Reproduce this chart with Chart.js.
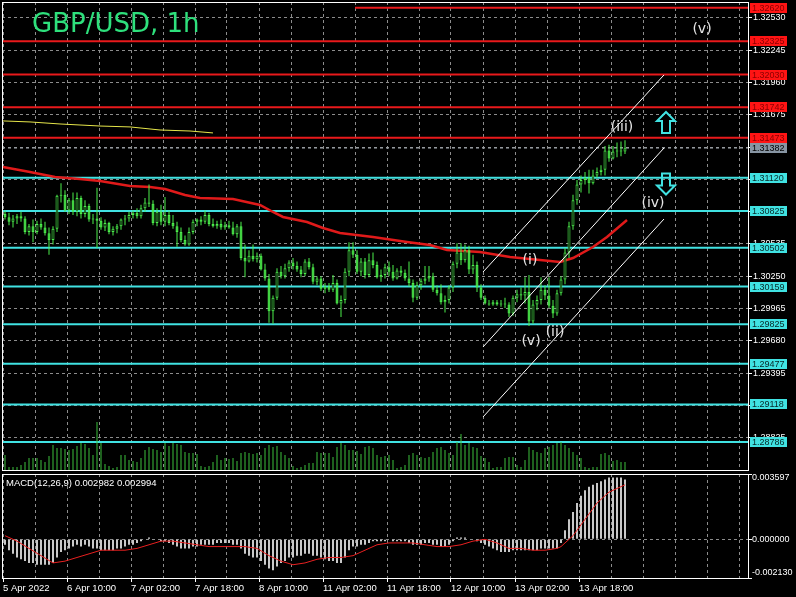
<!DOCTYPE html>
<html>
<head>
<meta charset="utf-8">
<script src="https://cdn.jsdelivr.net/npm/chart.js@4.4.1/dist/chart.umd.min.js"></script>
<style>
html, body { margin: 0; padding: 0; background: #000; }
#wrap { position: relative; width: 796px; height: 597px; background: #000; overflow: hidden; }
#mainChart { position: absolute; left: 0; top: 0; }
#macdChart { position: absolute; left: 0; top: 472px; }
</style>
</head>
<body>
<div id="wrap">
  <canvas id="mainChart" width="796" height="472"></canvas>
  <canvas id="macdChart" width="796" height="125"></canvas>
</div>
<script>
// --- data (one entry per hourly bar) ---
const chartTitle = 'GBP/USD, 1h';
const macdTitle = 'MACD(12,26,9) 0.002982 0.002994';

const opens = [
  1.3080,1.3077,1.3073,1.3076,1.3078,1.3076,1.3064,1.3069,1.3064,1.3071,
  1.3068,1.3063,1.3057,1.3067,1.3096,1.3097,1.3083,1.3092,1.3082,1.3094,
  1.3080,1.3087,1.3075,1.3076,1.3074,1.3068,1.3072,1.3064,1.3067,1.3069,
  1.3075,1.3076,1.3079,1.3081,1.3078,1.3085,1.3090,1.3089,1.3072,1.3082,
  1.3073,1.3079,1.3072,1.3069,1.3064,1.3057,1.3053,1.3064,1.3073,1.3075,
  1.3073,1.3079,1.3071,1.3069,1.3071,1.3068,1.3070,1.3068,1.3062,1.3069,
  1.3041,1.3038,1.3043,1.3040,1.3043,1.3031,1.3023,1.2994,1.3006,1.3029,
  1.3025,1.3032,1.3037,1.3034,1.3031,1.3027,1.3038,1.3033,1.3020,1.3023,
  1.3014,1.3016,1.3013,1.3019,1.3001,1.3004,1.3029,1.3048,1.3044,1.3029,
  1.3038,1.3026,1.3039,1.3035,1.3024,1.3026,1.3033,1.3029,1.3023,1.3030,
  1.3028,1.3023,1.3019,1.3006,1.3017,1.3021,1.3023,1.3025,1.3013,1.3010,
  1.3002,1.3004,1.3015,1.3036,1.3046,1.3039,1.3048,1.3031,1.3035,1.3015,
  1.3006,1.3001,1.3000,1.3002,1.3000,1.3001,1.3000,1.2992,1.3006,1.3009,
  1.3008,1.3011,1.2985,1.3000,1.3004,1.3013,1.3008,1.2999,1.2992,1.3010,
  1.3022,1.3046,1.3069,1.3092,1.3106,1.3110,1.3112,1.3107,1.3114,1.3117,
  1.3119,1.3136,1.3129,1.3135,1.3136,1.3135
];
const highs = [
  1.3083,1.3081,1.3079,1.3080,1.3082,1.3078,1.3071,1.3075,1.3074,1.3076,
  1.3073,1.3068,1.3069,1.3097,1.3107,1.3101,1.3094,1.3099,1.3099,1.3096,
  1.3092,1.3089,1.3080,1.3103,1.3077,1.3075,1.3073,1.3069,1.3071,1.3076,
  1.3079,1.3082,1.3083,1.3085,1.3088,1.3094,1.3106,1.3092,1.3085,1.3088,
  1.3095,1.3083,1.3079,1.3073,1.3068,1.3061,1.3068,1.3075,1.3076,1.3078,
  1.3083,1.3081,1.3076,1.3074,1.3075,1.3073,1.3074,1.3073,1.3071,1.3073,
  1.3053,1.3048,1.3053,1.3046,1.3045,1.3036,1.3027,1.3008,1.3032,1.3034,
  1.3036,1.3039,1.3041,1.3038,1.3034,1.3040,1.3041,1.3036,1.3025,1.3025,
  1.3019,1.3019,1.3026,1.3022,1.3008,1.3032,1.3055,1.3055,1.3048,1.3041,
  1.3041,1.3045,1.3046,1.3038,1.3031,1.3036,1.3038,1.3035,1.3032,1.3034,
  1.3031,1.3038,1.3022,1.3020,1.3023,1.3034,1.3034,1.3028,1.3017,1.3018,
  1.3008,1.3017,1.3038,1.3054,1.3054,1.3053,1.3052,1.3044,1.3038,1.3018,
  1.3008,1.3004,1.3004,1.3004,1.3004,1.3006,1.3002,1.3008,1.3013,1.3015,
  1.3024,1.3026,1.3004,1.3008,1.3024,1.3017,1.3024,1.3004,1.3013,1.3025,
  1.3050,1.3073,1.3097,1.3110,1.3114,1.3117,1.3119,1.3119,1.3121,1.3123,
  1.3140,1.3141,1.3140,1.3143,1.3144,1.3145
];
const lows = [
  1.3075,1.3070,1.3068,1.3071,1.3073,1.3062,1.3061,1.3055,1.3062,1.3066,
  1.3061,1.3044,1.3053,1.3064,1.3090,1.3082,1.3080,1.3079,1.3078,1.3076,
  1.3077,1.3073,1.3071,1.3050,1.3066,1.3065,1.3062,1.3061,1.3063,1.3066,
  1.3070,1.3073,1.3076,1.3076,1.3076,1.3082,1.3086,1.3070,1.3069,1.3070,
  1.3069,1.3070,1.3067,1.3051,1.3055,1.3052,1.3052,1.3062,1.3069,1.3070,
  1.3071,1.3069,1.3068,1.3067,1.3066,1.3066,1.3067,1.3061,1.3059,1.3039,
  1.3024,1.3037,1.3038,1.3037,1.3030,1.3021,1.2984,1.2983,1.3004,1.3023,
  1.3023,1.3029,1.3031,1.3029,1.3024,1.3025,1.3031,1.3018,1.3017,1.3012,
  1.3010,1.3011,1.3011,1.3000,1.2989,1.3001,1.3025,1.3041,1.3027,1.3025,
  1.3023,1.3024,1.3032,1.3023,1.3020,1.3023,1.3025,1.3021,1.3022,1.3025,
  1.3021,1.3016,1.3002,1.3004,1.3013,1.3018,1.3020,1.3011,1.3008,1.3000,
  1.2993,1.3001,1.3011,1.3032,1.3035,1.3037,1.3027,1.3027,1.3011,1.3004,
  1.3000,1.2999,1.2999,1.2999,1.2998,1.2997,1.2989,1.2990,1.3002,1.3004,
  1.3001,1.2981,1.2983,1.2995,1.3000,1.3004,1.2997,1.2988,1.2990,1.3008,
  1.3018,1.3041,1.3066,1.3088,1.3099,1.3106,1.3098,1.3106,1.3112,1.3114,
  1.3114,1.3126,1.3128,1.3130,1.3131,1.3133
];
const closes = [
  1.3077,1.3073,1.3076,1.3078,1.3076,1.3064,1.3069,1.3064,1.3071,1.3068,
  1.3063,1.3057,1.3067,1.3096,1.3097,1.3083,1.3092,1.3082,1.3094,1.3080,
  1.3087,1.3075,1.3076,1.3074,1.3068,1.3072,1.3064,1.3067,1.3069,1.3075,
  1.3076,1.3079,1.3081,1.3078,1.3085,1.3090,1.3089,1.3072,1.3082,1.3073,
  1.3079,1.3072,1.3069,1.3064,1.3057,1.3053,1.3064,1.3073,1.3075,1.3073,
  1.3079,1.3071,1.3069,1.3071,1.3068,1.3070,1.3068,1.3062,1.3069,1.3041,
  1.3038,1.3043,1.3040,1.3043,1.3031,1.3023,1.2994,1.3006,1.3029,1.3025,
  1.3032,1.3037,1.3034,1.3031,1.3027,1.3038,1.3033,1.3020,1.3023,1.3014,
  1.3016,1.3013,1.3019,1.3001,1.3004,1.3029,1.3048,1.3044,1.3029,1.3038,
  1.3026,1.3039,1.3035,1.3024,1.3026,1.3033,1.3029,1.3023,1.3030,1.3028,
  1.3023,1.3019,1.3006,1.3017,1.3021,1.3023,1.3025,1.3013,1.3010,1.3002,
  1.3004,1.3015,1.3036,1.3046,1.3039,1.3048,1.3031,1.3035,1.3015,1.3006,
  1.3001,1.3000,1.3002,1.3000,1.3001,1.3000,1.2992,1.3006,1.3009,1.3008,
  1.3011,1.2985,1.3000,1.3004,1.3013,1.3008,1.2999,1.2992,1.3010,1.3022,
  1.3046,1.3069,1.3092,1.3106,1.3110,1.3112,1.3107,1.3114,1.3117,1.3119,
  1.3136,1.3129,1.3135,1.3136,1.3135,1.3138
];
const volumes = [
  1500,300,300,300,500,800,1200,1200,1200,1000,
  800,1400,2500,2200,2200,2100,2000,2100,2400,2700,
  2600,2200,1500,4800,2700,600,400,200,300,1500,
  1500,1000,900,800,1200,2000,2300,2100,2000,1800,
  2700,2400,2700,2600,2500,1800,1700,1700,1600,400,
  300,400,800,1500,1000,1200,1100,1200,900,1700,
  1800,1700,1600,1700,1500,2200,2500,2300,2400,1800,
  1500,1200,400,200,300,500,700,700,1800,1700,
  1700,1700,1300,2300,2700,2500,2000,2000,1900,1600,
  2300,2400,2200,1500,1300,1400,1500,1000,200,300,
  500,1500,1700,1500,1300,1200,1300,1800,2200,2300,
  2000,1700,1500,2800,3600,2500,2700,2300,2200,1400,
  1200,800,200,300,300,1200,1300,1300,500,300,
  1000,2300,2000,1800,1700,2200,2300,2500,2700,2800,
  2500,2200,1800,1500,1200,300,200,300,300,1600,
  1700,1500,900,1000,800,800
];
const macdMain = [
  -0.0003,-0.0006,-0.0008,-0.0010,-0.0011,-0.0012,-0.0013,-0.0013,-0.0014,-0.0014,
  -0.0014,-0.0014,-0.0013,-0.0010,-0.0007,-0.0006,-0.0005,-0.0004,-0.0003,-0.0004,
  -0.0003,-0.0004,-0.0005,-0.0005,-0.0006,-0.0006,-0.0006,-0.0006,-0.0005,-0.0005,
  -0.0004,-0.0003,-0.0003,-0.0002,-0.0001,0.0000,0.0001,0.0000,0.0000,-0.0001,
  -0.0001,-0.0002,-0.0003,-0.0004,-0.0005,-0.0005,-0.0005,-0.0004,-0.0004,-0.0003,
  -0.0003,-0.0003,-0.0003,-0.0002,-0.0002,-0.0002,-0.0002,-0.0003,-0.0003,-0.0005,
  -0.0008,-0.0009,-0.0010,-0.0010,-0.0012,-0.0014,-0.0016,-0.0017,-0.0015,-0.0013,
  -0.0012,-0.0010,-0.0010,-0.0009,-0.0009,-0.0008,-0.0008,-0.0009,-0.0009,-0.0010,
  -0.0011,-0.0012,-0.0012,-0.0013,-0.0013,-0.0010,-0.0006,-0.0004,-0.0004,-0.0003,
  -0.0003,-0.0002,-0.0001,-0.0001,-0.0001,-0.0001,0.0000,-0.0001,-0.0001,-0.0001,
  -0.0001,-0.0002,-0.0003,-0.0003,-0.0003,-0.0002,-0.0002,-0.0003,-0.0003,-0.0004,
  -0.0004,-0.0003,-0.0001,0.0001,0.0001,0.0001,0.0000,0.0000,-0.0001,-0.0002,
  -0.0003,-0.0004,-0.0005,-0.0006,-0.0007,-0.0007,-0.0007,-0.0006,-0.0006,-0.0006,
  -0.0006,-0.0006,-0.0006,-0.0006,-0.0005,-0.0005,-0.0005,-0.0005,-0.0005,-0.0002,
  0.0005,0.0011,0.0015,0.0020,0.0024,0.0027,0.0029,0.0030,0.0031,0.0032,
  0.0033,0.0034,0.0034,0.0034,0.0034,0.0033
];
// signal line, read at these bar positions
const signalBars = [0,3,6,9,12,15,18,21,24,27,30,33,36,39,42,45,48,51,54,57,60,63,66,69,72,75,78,81,84,87,90,93,96,99,102,105,108,111,114,117,120,123,126,129,132,135,138,139,140,141,142,143,144,145,146,147,148,149,150,151,152,153,154,155];
const signalValues = [0.0002,-0.0001,-0.0005,-0.0009,-0.0013,-0.0012,-0.0010,-0.0008,-0.0006,-0.0006,-0.0006,-0.0005,-0.0003,-0.0001,-0.0001,-0.0002,-0.0003,-0.0004,-0.0004,-0.0004,-0.0004,-0.0005,-0.0009,-0.0012,-0.0014,-0.0013,-0.0011,-0.0010,-0.0010,-0.0009,-0.0006,-0.0003,-0.0002,-0.0002,-0.0002,-0.0003,-0.0004,-0.0004,-0.0003,-0.0001,0.0000,-0.0002,-0.0005,-0.0005,-0.0006,-0.0006,-0.0005,-0.0004,-0.0002,0.0000,0.0002,0.0005,0.0008,0.0011,0.0014,0.0017,0.0020,0.0022,0.0024,0.0026,0.0027,0.0028,0.0029,0.0030];

// red moving average and the yellow line, read at these bar positions
const maBars = [-0.5,6.25,12.5,18.75,23.75,31.25,36.25,40,45,48.75,57,63.75,67,69.5,75.5,79.5,83.75,92,100.5,106.25,110.5,118.75,126.25,133.75,138.75,142,147,150.5,155.5];
const maValues = [1.31214,1.31170,1.31126,1.31108,1.31091,1.31047,1.31038,1.31020,1.30967,1.30941,1.30932,1.30879,1.30817,1.30773,1.30729,1.30676,1.30632,1.30596,1.30552,1.30526,1.30481,1.30464,1.30419,1.30393,1.30375,1.30411,1.30508,1.30596,1.30746];
const yellowBars = [-0.5,6.25,13.75,23.75,31.25,38.75,46.25,52];
const yellowValues = [1.31621,1.31612,1.31594,1.31576,1.31568,1.31541,1.31532,1.31515];

// parallel channel (three trend lines)
const channelBars = [119.5, 164.75];
const channelStarts = [1.30287, 1.29625, 1.29007];
const channelEnds = [1.32027, 1.31382, 1.30755];

// horizontal levels
const redLevels = [1.32620, 1.32325, 1.32030, 1.31742, 1.31473];
const redStarts = [87.5, null, null, null, null];
const cyanLevels = [1.31120, 1.30825, 1.30502, 1.30159, 1.29825, 1.29477, 1.29118, 1.28786];
const lastPrice = 1.31382;

// axes
const priceTicks = [1.32530,1.32245,1.31960,1.31675,1.31390,1.31105,1.30820,1.30535,1.30250,1.29965,1.29680,1.29395,1.29110,1.28825];
const macdTicks = [0.003597, 0, -0.002130];
const timeLabels = ['5 Apr 2022','6 Apr 10:00','7 Apr 02:00','7 Apr 18:00','8 Apr 10:00','11 Apr 02:00','11 Apr 18:00','12 Apr 10:00','13 Apr 02:00','13 Apr 18:00'];

// wave count labels and arrows
const waveTexts = ['(v)','(iii)','(iv)','(i)','(ii)','(v)'];
const waveBars = [174.25,154.25,162,131.25,137.5,131.5];
const wavePrices = [1.32433,1.31568,1.30897,1.30393,1.29757,1.29678];
const arrowBars = [165.25, 165.25];
const arrowPrices = [1.31607, 1.31064];
const arrowDirs = ['up', 'down'];

// --- view settings ---
const X_MIN = -0.75, X_MAX = 185.75;
const P_MIN = 1.28539, P_MAX = 1.32671;
const VOL_MAX = 46800;
const M_MIN = -0.002130, M_MAX = 0.003597;
const GREEN = '#4cf04c';
const GRID = '#8c8c8c';
const RED = '#e8191b';
const CYAN = '#40e2e2';

Chart.defaults.font.family = "'Liberation Sans', Arial, sans-serif";
Chart.defaults.color = '#ffffff';

const bars = opens.map((_, i) => i);

// vertical grid every 8 bars
function xGridTicks(axis) {
    const t = [];
    for (let k = 0; k * 8 - 0.5 <= X_MAX; k++) t.push({ value: k * 8 - 0.5 });
    axis.ticks = t;
}

// keep the plot area exactly where the panel frame is
function noPad(axis) {
    axis.paddingTop = 0;
    axis.paddingBottom = 0;
    axis.paddingLeft = 0;
    axis.paddingRight = 0;
}

function hLine(p, from, color, width, dash, order) {
    return {
        type: 'line',
        data: [{ x: from, y: p }, { x: X_MAX, y: p }],
        borderColor: color, borderWidth: width, borderDash: dash || [],
        pointRadius: 0, order: order
    };
}

const mainSets = [];
redLevels.forEach((p, j) => mainSets.push(hLine(p, redStarts[j] === null ? X_MIN : redStarts[j], RED, 2, null, 12)));
cyanLevels.forEach(p => mainSets.push(hLine(p, X_MIN, CYAN, 2, null, 12)));
mainSets.push(hLine(lastPrice, X_MIN, '#a0a8b0', 1, [3, 3], 13));

mainSets.push({
    type: 'bar', yAxisID: 'yv',
    data: bars.map(i => ({ x: i, y: volumes[i] })),
    backgroundColor: '#3cc03c', barThickness: 1, grouped: false, inflateAmount: 0, order: 11
});
mainSets.push({
    type: 'line',
    data: yellowBars.map((b, j) => ({ x: b, y: yellowValues[j] })),
    borderColor: '#e6e64a', borderWidth: 1, pointRadius: 0, order: 7
});
mainSets.push({
    type: 'line',
    data: maBars.map((b, j) => ({ x: b, y: maValues[j] })),
    borderColor: '#e01a1a', borderWidth: 2.5, pointRadius: 0, order: 6
});
// wicks
mainSets.push({
    type: 'bar',
    data: bars.map(i => ({ x: i, y: [lows[i], highs[i]] })),
    backgroundColor: GREEN, barThickness: 1, grouped: false, inflateAmount: 0, order: 4
});
// bodies: hollow when up, filled when down
mainSets.push({
    type: 'bar',
    data: bars.map(i => ({ x: i, y: [opens[i], closes[i]] })),
    backgroundColor: c => closes[c.dataIndex] >= opens[c.dataIndex] ? '#000000' : GREEN,
    borderColor: GREEN, borderWidth: 1, borderSkipped: false,
    barThickness: 3, grouped: false, inflateAmount: 0, order: 3
});
channelStarts.forEach((s, j) => mainSets.push({
    type: 'line',
    data: [{ x: channelBars[0], y: s }, { x: channelBars[1], y: channelEnds[j] }],
    borderColor: '#ffffff', borderWidth: 1, pointRadius: 0, order: 1
}));

function drawArrow(ctx, cx, cy, dir) {
    const s = dir === 'up' ? 1 : -1;
    const pts = [[0, -10.5], [9, -1.5], [4, -1.5], [4, 10.5], [-4, 10.5], [-4, -1.5], [-9, -1.5]];
    ctx.beginPath();
    pts.forEach((p, k) => {
        const px = cx + p[0], py = cy + p[1] * s;
        if (k === 0) ctx.moveTo(px, py); else ctx.lineTo(px, py);
    });
    ctx.closePath();
    ctx.stroke();
}

const mainDecor = {
    id: 'mainDecor',
    afterDraw(chart) {
        const { ctx, chartArea: a, scales: { x, y } } = chart;
        ctx.save();
        ctx.strokeStyle = '#ffffff';
        ctx.lineWidth = 1;
        ctx.strokeRect(a.left + 0.5, a.top + 0.5, a.right - a.left, a.bottom - a.top);

        // price boxes on the right axis
        ctx.font = "9px 'Liberation Sans'";
        ctx.textBaseline = 'middle';
        ctx.textAlign = 'left';
        const box = (p, bg, fg) => {
            const py = Math.round(y.getPixelForValue(p));
            ctx.fillStyle = bg;
            ctx.fillRect(a.right + 2, py - 5, 37, 10);
            ctx.fillStyle = fg;
            ctx.fillText(p.toFixed(5), a.right + 4, py + 0.5);
        };
        redLevels.forEach(p => box(p, '#ff1414', '#8a0000'));
        cyanLevels.forEach(p => box(p, CYAN, '#062626'));
        box(lastPrice, '#8795a3', '#000000');

        // title
        ctx.font = "26px 'DejaVu Sans'";
        ctx.textBaseline = 'alphabetic';
        ctx.fillStyle = '#2ee07c';
        ctx.fillText(chartTitle, 32, 31.5);

        // wave labels
        ctx.font = "14px 'DejaVu Sans'";
        ctx.textAlign = 'center';
        ctx.textBaseline = 'middle';
        ctx.fillStyle = '#e6e6e6';
        waveTexts.forEach((t, j) => ctx.fillText(t, x.getPixelForValue(waveBars[j]), y.getPixelForValue(wavePrices[j])));

        // arrows
        ctx.strokeStyle = CYAN;
        ctx.lineWidth = 2;
        arrowDirs.forEach((d, j) => drawArrow(ctx, x.getPixelForValue(arrowBars[j]), y.getPixelForValue(arrowPrices[j]), d));
        ctx.restore();
    }
};

new Chart(document.getElementById('mainChart'), {
    type: 'bar',
    data: { datasets: mainSets },
    options: {
        responsive: false,
        animation: false,
        events: [],
        layout: { padding: { left: 2, top: 2, right: 0, bottom: 2 } },
        plugins: { legend: { display: false }, tooltip: { enabled: false } },
        scales: {
            x: {
                type: 'linear', min: X_MIN, max: X_MAX, offset: false,
                afterBuildTicks: xGridTicks,
                ticks: { display: false },
                grid: { color: GRID, drawTicks: false, offset: false },
                border: { display: false, dash: [3, 3] },
                afterFit: axis => { axis.height = 0; noPad(axis); }
            },
            y: {
                position: 'right', min: P_MIN, max: P_MAX,
                afterBuildTicks: axis => { axis.ticks = priceTicks.map(v => ({ value: v })); },
                ticks: { autoSkip: false, callback: v => v.toFixed(5), font: { size: 9 }, color: '#ffffff', padding: 1 },
                grid: { color: GRID, tickColor: '#ffffff', tickLength: 4, tickBorderDash: [] },
                border: { display: false, dash: [3, 3] },
                afterFit: axis => { axis.width = 48; noPad(axis); }
            },
            yv: { display: false, min: 0, max: VOL_MAX }
        }
    },
    plugins: [mainDecor]
});

// --- MACD sub-window ---
const macdDecor = {
    id: 'macdDecor',
    afterDraw(chart) {
        const { ctx, chartArea: a, scales: { y } } = chart;
        ctx.save();
        ctx.strokeStyle = '#ffffff';
        ctx.lineWidth = 1;
        ctx.strokeRect(a.left + 0.5, a.top + 0.5, a.right - a.left, a.bottom - a.top);
        ctx.fillStyle = '#ffffff';
        ctx.font = "9.5px 'Liberation Sans'";
        ctx.textBaseline = 'middle';
        ctx.textAlign = 'left';
        ctx.fillText(macdTitle, 6, a.top + 9);
        ctx.font = "9px 'Liberation Sans'";
        macdTicks.forEach(v => {
            let py = y.getPixelForValue(v);
            if (v === M_MAX) py += 4;
            if (v === M_MIN) py -= 5;
            ctx.fillText(v.toFixed(6), a.right + 4, py);
        });
        ctx.restore();
    }
};

new Chart(document.getElementById('macdChart'), {
    type: 'bar',
    data: {
        datasets: [
            {
                type: 'bar',
                data: bars.map(i => ({ x: i, y: macdMain[i] })),
                backgroundColor: '#c8c8c8', barThickness: 2, grouped: false, inflateAmount: 0, order: 2
            },
            {
                type: 'line',
                data: signalBars.map((b, j) => ({ x: b, y: signalValues[j] })),
                borderColor: '#e82020', borderWidth: 1, pointRadius: 0, order: 1
            }
        ]
    },
    options: {
        responsive: false,
        animation: false,
        events: [],
        layout: { padding: { left: 2, top: 2, right: 0, bottom: 0 } },
        plugins: { legend: { display: false }, tooltip: { enabled: false } },
        scales: {
            x: {
                type: 'linear', min: X_MIN, max: X_MAX, offset: false,
                afterBuildTicks: xGridTicks,
                ticks: {
                    autoSkip: false, maxRotation: 0, minRotation: 0, align: 'start', padding: 1,
                    font: { size: 9.5 }, color: '#ffffff',
                    callback: (v, i) => (i % 2 === 0 && i / 2 < timeLabels.length) ? timeLabels[i / 2] : ''
                },
                grid: {
                    color: GRID, offset: false, tickLength: 4, tickBorderDash: [],
                    tickColor: c => (c.index % 2 === 0 && c.index / 2 < timeLabels.length) ? '#ffffff' : 'rgba(0,0,0,0)'
                },
                border: { display: false, dash: [3, 3] },
                afterFit: axis => { axis.height = 19; noPad(axis); }
            },
            y: {
                position: 'right', min: M_MIN, max: M_MAX,
                afterBuildTicks: axis => { axis.ticks = macdTicks.map(v => ({ value: v })); },
                ticks: { display: false },
                grid: {
                    color: c => (c.tick && c.tick.value === 0) ? GRID : 'rgba(0,0,0,0)',
                    tickColor: '#ffffff', tickLength: 4, tickBorderDash: []
                },
                border: { display: false, dash: [3, 3] },
                afterFit: axis => { axis.width = 48; noPad(axis); }
            }
        }
    },
    plugins: [macdDecor]
});
</script>
</body>
</html>
